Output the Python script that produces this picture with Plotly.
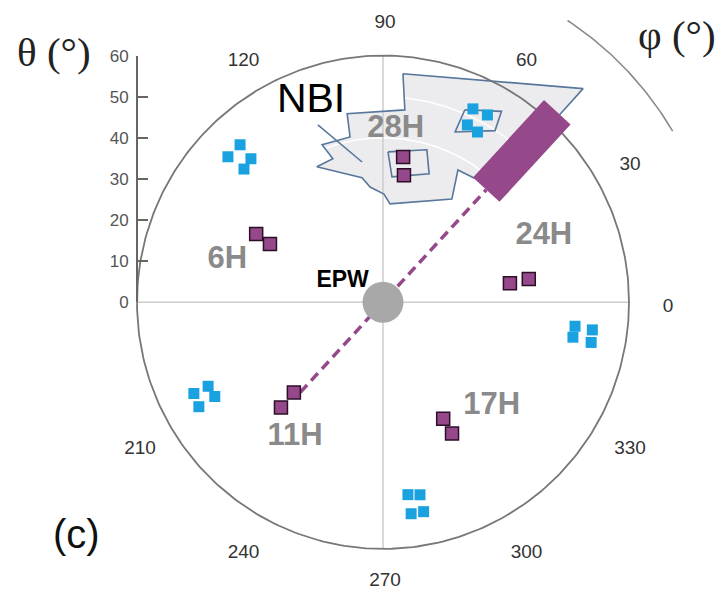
import numpy as np
import plotly.graph_objects as go

# ---------------- data (phi = azimuth in deg, theta = polar angle in deg) ----------------
theta_ticks = [0, 10, 20, 30, 40, 50, 60]
phi_tick_vals = [0, 30, 60, 90, 120, 210, 240, 270, 300, 330]
phi_tick_text = ["0", "30", "60", "90", "120", "210", "240", "270", "300", "330"]

purple_phi = [151.8, 152.8, 82.1, 80.6, 8.5, 9.0, 225.3, 225.8, 297.4, 297.8]
purple_theta = [35.1, 31.0, 35.7, 31.3, 31.3, 36.0, 30.9, 35.7, 31.9, 36.1]

cyan_phi = [132.3, 136.9, 132.7, 136.3,
            65.0, 60.8, 64.5, 60.9,
            352.9, 349.6, 352.5, 349.1,
            205.7, 205.6, 209.2, 209.5,
            277.4, 280.9, 277.6, 281.0]
cyan_theta = [51.8, 51.8, 47.5, 46.9,
              51.9, 52.2, 47.8, 47.4,
              47.2, 47.1, 51.5, 51.7,
              51.2, 47.3, 47.0, 51.6,
              47.2, 47.7, 51.9, 51.9]

site_labels = ["6H", "28H", "24H", "11H", "17H"]
site_label_phi = [165.0, 85.8, 22.3, 236.9, 316.2]
site_label_theta = [39.3, 42.2, 42.4, 39.3, 36.7]

nbi_region_phi = [85.0, 46.8, 46.6, 53.7, 60.4, 56.2, 85.9, 89.5, 96.4, 99.6,
                  116.1, 109.3, 111.2, 101.3, 100.8, 83.5, 85.0]
nbi_region_theta = [55.8, 71.3, 61.1, 37.5, 37.0, 30.2, 24.0, 26.3, 28.2, 30.7,
                    36.7, 37.0, 41.1, 41.0, 46.7, 47.1, 55.8]

purple_box_phi = [88.1, 73.9, 70.2, 85.9, 88.1]
purple_box_theta = [36.6, 38.6, 33.2, 30.6, 36.6]
cyan_box_phi = [66.9, 58.1, 56.8, 67.0, 66.9]
cyan_box_theta = [50.9, 54.7, 49.9, 45.0, 50.9]

nbi_line_phi = [110.2, 98.5]
nbi_line_theta = [46.0, 34.5]

beam_phi = [47.4, 47.4]
beam_theta = [37.2, 62.8]
sightline_phi = [227.4, 47.4]
sightline_theta = [29.8, 37.2]

epw_label_phi, epw_label_theta = [152.6], [11.1]
nbi_label_phi, nbi_label_theta = [109.8], [51.8]

THETA_MAX = 60
white_grid_theta = [40, 50]
tick_label_theta = 69.0
tick_label_shift = (0.5, -1.2)      # label ring is drawn slightly below the pole
phi_arc_theta = 82
phi_arc_range = [30.5, 56.7]

# ---------------- layout geometry ----------------
def to_xy(phi, theta):
    p = np.radians(np.asarray(phi, dtype=float))
    t = np.asarray(theta, dtype=float)
    return t * np.cos(p), t * np.sin(p)

W, H = 721, 602
CX, CY = 383, 300            # target pixel position of the pole
S = 246 / THETA_MAX          # px per degree of theta
# the page shows the figure's full height within rows [TOP, TOP + SPAN]
TOP, SPAN = 7.5, 581.5
LOWEST_LABEL_PX = 578        # keep tick labels fully inside the canvas

def paper_y(py):
    return 1 - (py - TOP) / SPAN

full_phi = np.linspace(0, 360, 361)

fig = go.Figure()

# NBI region fill
x, y = to_xy(nbi_region_phi, nbi_region_theta)
fig.add_trace(go.Scatter(x=x, y=y, mode="lines", fill="toself", fillcolor="#ececef",
                         line=dict(width=0), hoverinfo="skip", showlegend=False))

# white grid circles (only visible over the region)
for t in white_grid_theta:
    x, y = to_xy(full_phi, [t] * len(full_phi))
    fig.add_trace(go.Scatter(x=x, y=y, mode="lines", line=dict(color="white", width=1.5),
                             hoverinfo="skip", showlegend=False))

# cross lines
for ph in [0, 90]:
    x, y = to_xy([ph, ph + 180], [THETA_MAX, THETA_MAX])
    fig.add_trace(go.Scatter(x=x, y=y, mode="lines", line=dict(color="#cccccc", width=1.5),
                             hoverinfo="skip", showlegend=False))

# outlines
outline_col = "#58779b"
for ph, th in [(nbi_region_phi, nbi_region_theta), (purple_box_phi, purple_box_theta),
               (cyan_box_phi, cyan_box_theta), (nbi_line_phi, nbi_line_theta)]:
    x, y = to_xy(ph, th)
    fig.add_trace(go.Scatter(x=x, y=y, mode="lines", line=dict(color=outline_col, width=1.6),
                             hoverinfo="skip", showlegend=False))

# outer circle theta = 60
x, y = to_xy(full_phi, [THETA_MAX] * len(full_phi))
fig.add_trace(go.Scatter(x=x, y=y, mode="lines", line=dict(color="#777777", width=1.8),
                         hoverinfo="skip", showlegend=False))

purple = "#96498a"
# dashed sight line
x, y = to_xy(sightline_phi, sightline_theta)
fig.add_trace(go.Scatter(x=x, y=y, mode="lines", line=dict(color=purple, width=3.5, dash="10px,6px"),
                         hoverinfo="skip", showlegend=False))
# beam bar
x, y = to_xy(beam_phi, beam_theta)
fig.add_trace(go.Scatter(x=x, y=y, mode="lines", line=dict(color=purple, width=36),
                         hoverinfo="skip", showlegend=False))

# EPW (pole)
fig.add_trace(go.Scatter(x=[0], y=[0], mode="markers",
                         marker=dict(size=41, color="#a8a8a8", line=dict(width=0)),
                         hoverinfo="skip", showlegend=False))

# markers
x, y = to_xy(cyan_phi, cyan_theta)
fig.add_trace(go.Scatter(x=x, y=y, mode="markers",
                         marker=dict(symbol="square", size=11, color="#1aa2e0", line=dict(width=0)),
                         hoverinfo="skip", showlegend=False))
x, y = to_xy(purple_phi, purple_theta)
fig.add_trace(go.Scatter(x=x, y=y, mode="markers",
                         marker=dict(symbol="square", size=13, color=purple,
                                     line=dict(width=1.5, color="#2a0f27")),
                         hoverinfo="skip", showlegend=False))

# site labels
x, y = to_xy(site_label_phi, site_label_theta)
fig.add_trace(go.Scatter(x=x, y=y, mode="text", text=site_labels,
                         textfont=dict(family="Liberation Sans", size=31, color="#8a8a8a", weight="bold"),
                         hoverinfo="skip", showlegend=False))
x, y = to_xy(epw_label_phi, epw_label_theta)
fig.add_trace(go.Scatter(x=x, y=y, mode="text", text=["EPW"],
                         textfont=dict(family="Liberation Sans", size=23, color="black", weight="bold"),
                         hoverinfo="skip", showlegend=False))
x, y = to_xy(nbi_label_phi, nbi_label_theta)
fig.add_trace(go.Scatter(x=x, y=y, mode="text", text=["NBI"],
                         textfont=dict(family="Liberation Sans", size=41, color="black"),
                         hoverinfo="skip", showlegend=False))

# angular tick labels
x, y = to_xy(phi_tick_vals, [tick_label_theta] * len(phi_tick_vals))
x = x + tick_label_shift[0]
y = np.maximum(y + tick_label_shift[1], (CY - LOWEST_LABEL_PX) / S)
fig.add_trace(go.Scatter(x=x, y=y, mode="text", text=phi_tick_text, cliponaxis=False,
                         textfont=dict(family="Liberation Sans", size=19, color="#333333"),
                         hoverinfo="skip", showlegend=False))

# phi arc
arc_phi = np.linspace(phi_arc_range[0], phi_arc_range[1], 60)
x, y = to_xy(arc_phi, [phi_arc_theta] * len(arc_phi))
fig.add_trace(go.Scatter(x=x, y=y, mode="lines", line=dict(color="#8a8a8a", width=1.6),
                         hoverinfo="skip", showlegend=False))

# dummy trace carrying the theta axis
fig.add_trace(go.Scatter(x=[0], y=[0], yaxis="y2", mode="markers", marker=dict(opacity=0),
                         hoverinfo="skip", showlegend=False))

fig.update_layout(
    width=W, height=H, autosize=False,
    margin=dict(l=0, r=0, t=0, b=0, pad=0),
    paper_bgcolor="white", plot_bgcolor="rgba(0,0,0,0)",
    xaxis=dict(range=[-CX / S, (W - CX) / S], visible=False, domain=[0, 1], fixedrange=True),
    yaxis=dict(range=[-(TOP + SPAN - CY) / S, (CY - TOP) / S], visible=False, domain=[0, 1],
               fixedrange=True),
    yaxis2=dict(range=[0, THETA_MAX], domain=[paper_y(CY), paper_y(CY - THETA_MAX * S)],
                anchor="free", position=(CX - THETA_MAX * S) / W, side="left",
                tickvals=theta_ticks, ticks="inside", ticklen=10, tickwidth=2, tickcolor="#666666",
                showline=True, linecolor="#666666", linewidth=2, showgrid=False, zeroline=False,
                tickfont=dict(family="Liberation Sans", size=17, color="#555555"),
                ticklabelstandoff=4, fixedrange=True),
    annotations=[
        dict(text="θ (°)", x=54 / W, y=paper_y(50), xref="paper", yref="paper", showarrow=False,
             xanchor="center", yanchor="middle",
             font=dict(family="Liberation Serif", size=41, color="#222222")),
        dict(text="φ (°)", x=677 / W, y=paper_y(33), xref="paper", yref="paper", showarrow=False,
             xanchor="center", yanchor="middle",
             font=dict(family="Liberation Serif", size=41, color="#222222")),
        dict(text="(c)", x=76 / W, y=paper_y(531), xref="paper", yref="paper", showarrow=False,
             xanchor="center", yanchor="middle",
             font=dict(family="Liberation Sans", size=40, color="#111111")),
    ],
)

fig.write_html("out.html")
